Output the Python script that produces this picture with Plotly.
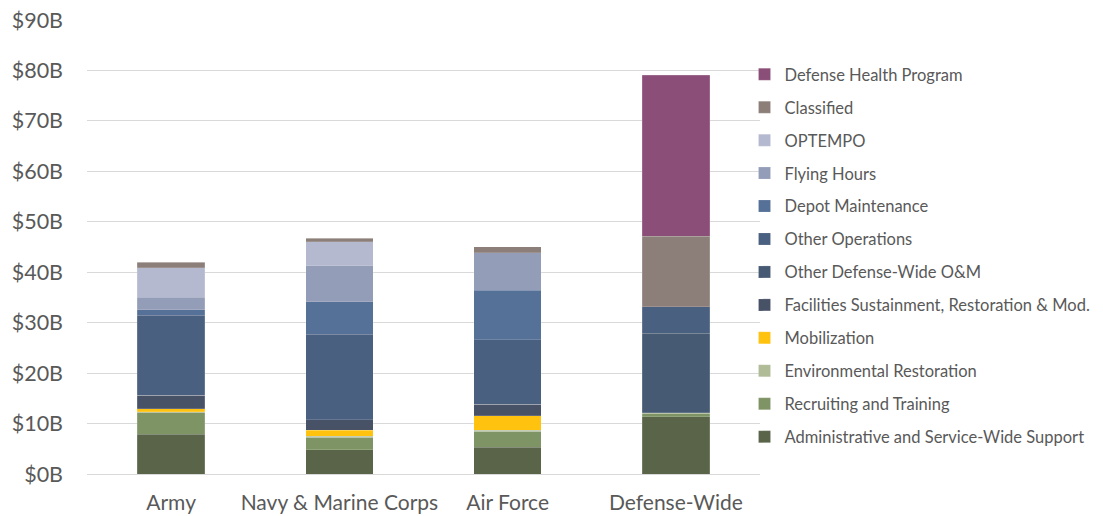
import plotly.graph_objects as go

categories = ["Army", "Navy & Marine Corps", "Air Force", "Defense-Wide"]

# series listed bottom-to-top of the stack (values in $B)
series_names = [
    "Administrative and Service-Wide Support",
    "Recruiting and Training",
    "Environmental Restoration",
    "Mobilization",
    "Facilities Sustainment, Restoration & Mod.",
    "Other Defense-Wide O&M",
    "Other Operations",
    "Depot Maintenance",
    "Flying Hours",
    "OPTEMPO",
    "Classified",
    "Defense Health Program",
]
admin = [7.87, 4.76, 5.35, 11.36]
recruiting = [4.3, 2.44, 3.04, 0.55]
environmental = [0.15, 0.33, 0.33, 0.2]
mobilization = [0.65, 1.13, 2.84, 0.0]
facilities = [2.6, 2.1, 2.3, 0.0]
other_dw = [0.0, 0.0, 0.0, 15.8]
other_ops = [15.9, 16.92, 12.75, 5.2]
depot = [1.1, 6.47, 9.8, 0.0]
flying = [2.5, 7.14, 7.5, 0.0]
optempo = [5.8, 4.76, 0.0, 0.0]
classified = [1.1, 0.73, 1.1, 14.0]
dhp = [0.0, 0.0, 0.0, 31.9]

values = [admin, recruiting, environmental, mobilization, facilities, other_dw,
          other_ops, depot, flying, optempo, classified, dhp]
colors = ["#5a6449", "#7f9464", "#b0bb98", "#ffc20e", "#485267", "#475a74",
          "#4a6080", "#567198", "#939db8", "#b4b9cf", "#8c7f7a", "#8a4e78"]

text_color = "#595959"
font_family = "Lato, 'Open Sans', sans-serif"

fig = go.Figure()
for i, (name, vals, col) in enumerate(zip(series_names, values, colors)):
    fig.add_trace(go.Bar(
        x=categories, y=vals, name=name,
        marker=dict(color=col, line=dict(color="rgba(255,255,255,0.3)", width=0.5)),
        legendgroup=f"g{i}",
        legendrank=1000 - i,
    ))

fig.update_layout(
    barmode="stack",
    bargap=0.6,
    width=1103, height=516,
    margin=dict(l=87, r=343, t=20, b=42, autoexpand=False),
    plot_bgcolor="white", paper_bgcolor="white",
    font=dict(family=font_family, color=text_color),
    xaxis=dict(tickfont=dict(size=21, color=text_color), showline=False,
               ticks="", showgrid=False, ticklabelstandoff=14, automargin=False),
    yaxis=dict(range=[0, 90], dtick=10, tickprefix="$", ticksuffix="B",
               tickfont=dict(size=21.5, color=text_color), showgrid=True,
               gridcolor="#d9d9d9", gridwidth=1, zeroline=True,
               zerolinecolor="#d9d9d9", zerolinewidth=1, ticks="",
               ticklabelstandoff=23, automargin=False),
    legend=dict(
        x=0.977, xanchor="left", y=1.0 - (57 - 20) / 454, yanchor="top",
        traceorder="grouped", tracegroupgap=8.5,
        font=dict(size=16.5, color=text_color, family=font_family),
        itemwidth=30, bgcolor="rgba(0,0,0,0)",
    ),
    showlegend=True,
)

fig.write_html("out.html")
